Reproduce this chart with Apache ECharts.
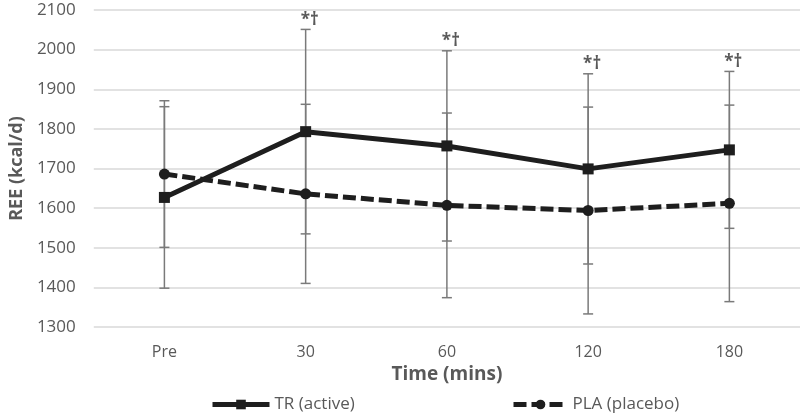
<!DOCTYPE html>
<html>
<head>
<meta charset="utf-8">
<script src="https://cdn.jsdelivr.net/npm/echarts@6/dist/echarts.min.js"></script>
<style>html,body{margin:0;padding:0;background:#fff}#c{width:800px;height:413px}</style>
</head>
<body>
<div id="c"></div>
<script>
var categories = ['Pre', '30', '60', '120', '180'];
var trMean = [1627, 1793, 1757, 1699, 1747];
var trSD = [229, 258, 240, 240, 198];
var plaMean = [1686, 1636, 1607, 1594, 1612];
var plaSD = [185, 226, 233, 261, 248];
var trSig = ['', '*†', '*†', '*†', '*†'];

var FONT = '"Open Sans", sans-serif';
var GRAY = '#595959';

function errData(mean, sd, sig) {
  return mean.map(function (m, i) { return [i, m - sd[i], m + sd[i], sig ? sig[i] : '']; });
}

function errRender(params, api) {
  var x = api.value(0);
  var lo = api.coord([x, api.value(1)]);
  var hi = api.coord([x, api.value(2)]);
  var cap = 5;
  var style = { stroke: '#7a7a7a', lineWidth: 1.5 };
  var children = [
    { type: 'line', shape: { x1: lo[0], y1: lo[1], x2: hi[0], y2: hi[1] }, style: style },
    { type: 'line', shape: { x1: lo[0] - cap, y1: lo[1], x2: lo[0] + cap, y2: lo[1] }, style: style },
    { type: 'line', shape: { x1: hi[0] - cap, y1: hi[1], x2: hi[0] + cap, y2: hi[1] }, style: style }
  ];
  var s = api.value(3);
  if (s) {
    children.push({ type: 'text', style: { text: s, x: hi[0] + 4, y: hi[1] - 1, align: 'center', verticalAlign: 'bottom', fill: GRAY, font: 'bold 17px ' + FONT } });
  }
  return { type: 'group', children: children };
}

var chart = echarts.init(document.getElementById('c'));
chart.setOption({
  animation: false,
  grid: { left: 88, right: 0, top: 10, bottom: 86 },
  legend: [
    { data: ['TR (active)'], left: 205, top: 391, itemWidth: 57, itemHeight: 12,
      lineStyle: { width: 5 },
      textStyle: { color: GRAY, fontSize: 17, fontFamily: FONT } },
    { data: ['PLA (placebo)'], left: 506, top: 391, itemWidth: 54, itemHeight: 12,
      lineStyle: { width: 5 },
      textStyle: { color: GRAY, fontSize: 17, fontFamily: FONT } }
  ],
  xAxis: {
    type: 'category', data: categories, boundaryGap: true,
    name: 'Time (mins)', nameLocation: 'middle', nameGap: 31,
    nameTextStyle: { color: GRAY, fontSize: 19, fontWeight: 'bold', fontFamily: FONT },
    axisLine: { show: false }, axisTick: { show: false },
    axisLabel: { color: GRAY, fontSize: 16, fontFamily: FONT, margin: 17 }
  },
  yAxis: {
    type: 'value', min: 1300, max: 2100, interval: 100,
    name: 'REE (kcal/d)', nameLocation: 'middle', nameGap: 66,
    nameTextStyle: { color: GRAY, fontSize: 18, fontWeight: 'bold', fontFamily: FONT },
    axisLine: { show: false }, axisTick: { show: false },
    axisLabel: { color: GRAY, fontSize: 17, fontFamily: FONT, margin: 18, formatter: function (v) { return String(v); } },
    splitLine: { lineStyle: { color: '#d9d9d9', width: 1.5 } }
  },
  series: [
    { type: 'custom', name: 'trErr', data: errData(trMean, trSD, trSig), renderItem: errRender, z: 1, silent: true,
      encode: { x: 0, y: [1, 2] } },
    { type: 'custom', name: 'plaErr', data: errData(plaMean, plaSD, null), renderItem: errRender, z: 1, silent: true,
      encode: { x: 0, y: [1, 2] } },
    { type: 'line', name: 'TR (active)', data: trMean, symbol: 'rect', symbolSize: 11, z: 3,
      lineStyle: { color: '#1e1e1e', width: 5 }, itemStyle: { color: '#1e1e1e' } },
    { type: 'line', name: 'PLA (placebo)', data: plaMean, symbol: 'circle', symbolSize: 11, z: 3,
      lineStyle: { color: '#1e1e1e', width: 5, type: [13, 5] }, itemStyle: { color: '#1e1e1e' } }
  ]
});
</script>
</body>
</html>
